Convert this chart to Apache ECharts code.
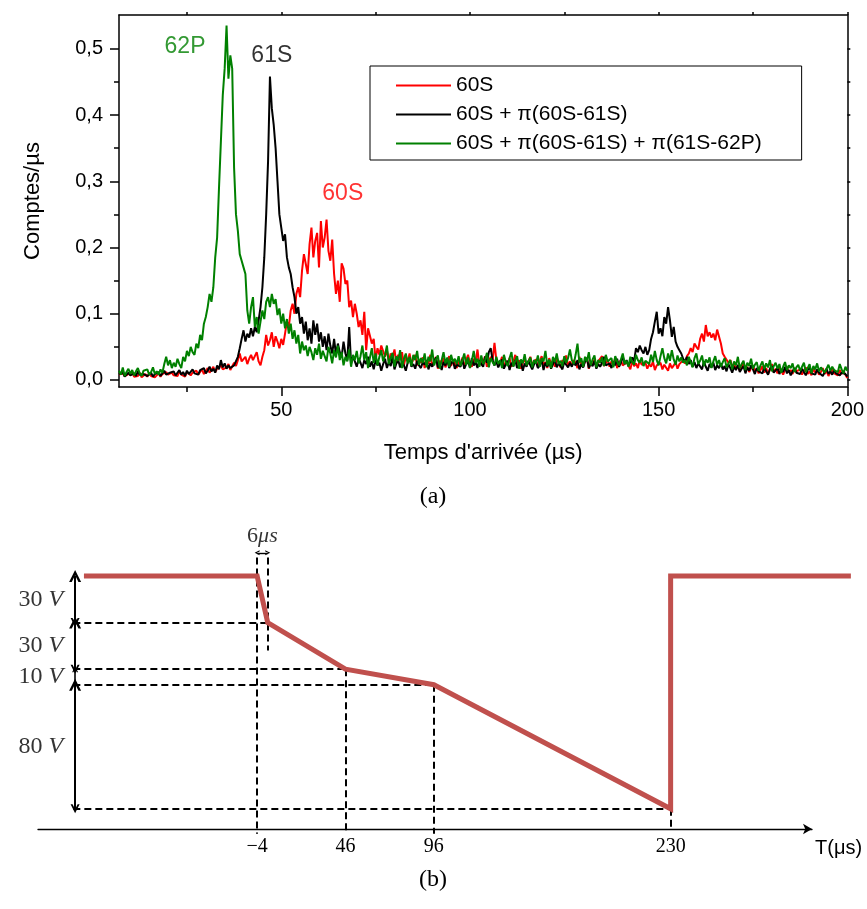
<!DOCTYPE html>
<html><head><meta charset="utf-8">
<script src="https://cdn.jsdelivr.net/npm/echarts@6/dist/echarts.min.js"></script>
<style>html,body{margin:0;padding:0;background:#fff}#c{width:867px;height:909px}</style>
</head><body><div id="c"></div>
<script>
// ===== Panel (a): arrival-time spectra =====
const T_START = 7;      // µs, first sample
const T_STEP = 0.5;     // µs between samples
const ROW_SPAN = 10;    // µs covered by one row (20 samples)
// counts/µs x 1000, one row per 10 µs starting at 7 µs
const red60S = [
[8,5,10,6,4,9,7,12,5,8,6,11,4,7,9,5,10,6,8,4],
[7,10,5,9,6,12,8,5,11,7,9,6,13,8,10,5,12,9,7,11],
[10,14,8,12,16,9,13,18,11,15,20,12,17,14,22,16,13,19,24,15],
[18,26,21,30,40,28,25,35,24,32,38,30,36,42,28,22,35,45,68,52],
[60,72,50,66,58,48,62,53,70,88,80,105,115,100,130,140,125,165,190,175],
[160,205,230,185,210,222,170,240,200,215,242,195,180,212,160,130,150,118,176,168],
[145,150,110,120,95,115,100,80,90,68,103,45,78,80,55,62,30,48,38,52],
[50,35,45,28,40,33,46,25,38,30,42,22,35,28,40,24,32,38,22,30],
[26,34,18,30,24,38,20,28,35,17,29,24,33,19,27,36,21,30,25,18],
[28,22,34,19,30,38,24,20,32,27,46,22,30,25,36,20,28,35,30,56],
[30,22,26,35,18,29,24,33,20,27,38,22,30,17,26,32,21,28,35,23],
[25,31,19,28,36,22,27,18,33,24,29,20,34,26,19,30,24,37,21,28],
[22,30,26,18,35,24,20,29,33,17,27,23,31,19,28,25,36,21,26,30],
[20,28,24,33,18,26,30,22,19,27,24,16,29,21,25,18,30,23,20,26],
[17,24,20,28,15,22,19,26,16,23,20,14,25,18,22,27,17,24,21,30],
[25,36,40,48,42,55,50,46,62,70,58,83,66,72,64,70,60,76,78,55],
[40,35,32,26,30,20,24,16,22,14,19,25,15,20,12,18,22,13,17,10],
[15,21,11,18,9,16,24,12,17,10,19,14,8,16,20,11,15,9,18,13],
[10,16,8,14,19,9,13,7,17,11,15,8,12,18,9,14,6,12,16,10],
[12,7,15,9,13,8,3]
];
const black61S = [
[9,6,12,5,8,11,7,4,10,6,13,8,5,9,12,6,8,11,5,9],
[7,12,6,10,14,8,5,11,9,13,7,10,15,8,12,6,14,9,11,16],
[10,13,8,15,12,18,10,14,20,13,17,11,22,16,30,19,25,17,22,18],
[15,22,20,35,48,62,75,58,70,64,78,66,80,72,90,110,140,185,250,330],
[458,410,385,350,300,250,230,210,220,185,170,160,140,125,100,110,85,95,70,88],
[60,78,55,90,68,85,58,72,50,66,45,70,52,40,62,38,55,42,35,58],
[40,30,80,25,35,28,20,32,26,18,30,24,35,20,28,16,30,22,26,14],
[24,32,18,27,21,35,16,25,30,19,28,22,14,26,33,20,24,17,29,22],
[18,27,23,30,16,25,20,28,34,19,24,15,27,22,31,18,25,29,17,23],
[26,20,31,17,24,28,19,33,22,27,18,30,24,20,35,26,42,48,30,22],
[28,19,25,31,17,24,29,15,26,21,30,18,23,27,14,25,20,29,22,16],
[24,28,18,22,30,15,26,20,27,17,24,31,19,25,21,16,28,23,19,26],
[20,27,22,30,16,24,19,28,33,18,25,21,29,17,24,20,26,35,22,19],
[25,18,28,22,32,20,26,36,24,30,22,27,34,28,48,42,52,45,40,50],
[38,45,62,72,88,103,70,78,66,95,85,110,90,65,80,58,50,45,40,32],
[28,35,24,30,20,27,18,25,22,16,28,20,14,24,19,26,15,22,18,25],
[16,21,13,24,18,11,20,15,23,12,17,21,10,19,14,22,16,9,18,13],
[15,10,19,13,8,17,21,11,14,18,9,16,12,20,10,15,7,13,18,11],
[14,9,17,12,7,15,19,10,13,8,16,11,14,6,12,17,9,13,8,15],
[10,13,7,11,14,9,5]
];
const green62P = [
[14,8,19,6,12,17,9,15,7,13,18,10,6,14,11,16,8,12,19,9],
[13,8,16,11,24,35,22,30,18,26,20,32,24,18,35,28,44,36,50,42],
[38,55,48,68,60,85,95,110,130,118,140,185,215,290,360,430,470,535,455,490],
[470,320,250,225,190,180,170,160,105,85,110,125,80,95,70,88,105,92,118,125],
[110,130,115,122,98,108,85,100,78,92,70,85,62,75,55,68,40,58,45,52],
[36,50,42,30,48,38,55,32,44,36,28,50,40,25,45,34,52,30,42,22],
[35,28,46,20,38,30,44,25,36,52,30,42,18,34,48,26,40,22,35,45],
[28,38,52,24,33,41,20,36,29,45,18,32,40,25,35,21,38,30,44,23],
[33,26,40,19,35,28,46,22,31,37,17,30,42,25,34,20,38,27,32,24],
[36,21,30,40,23,34,18,29,44,26,32,20,37,24,30,41,19,33,27,22],
[35,24,30,18,38,27,21,33,42,20,29,36,17,31,25,39,22,28,34,19],
[30,25,37,20,33,28,44,22,31,18,35,27,40,24,29,21,36,26,33,46],
[30,24,38,55,26,33,20,35,28,42,22,31,37,19,30,26,34,21,38,28],
[25,33,19,36,28,22,31,40,24,29,20,35,27,23,38,30,26,34,21,29],
[32,24,38,27,44,30,22,36,48,33,25,40,29,45,31,23,37,28,34,26],
[30,22,35,27,19,33,40,24,29,37,21,31,26,34,18,28,36,23,30,20],
[27,33,19,25,30,16,28,22,35,18,24,29,15,26,21,32,17,23,27,14],
[22,28,16,25,19,30,13,21,26,17,24,11,20,27,15,22,18,25,12,19],
[23,14,20,26,12,18,24,10,21,16,25,13,19,22,11,17,23,14,20,15],
[18,12,24,16,10,20,14]
];
const seriesNames = ['60S', '60S + π(60S-61S)', '60S + π(60S-61S) + π(61S-62P)'];
const seriesColors = ['#FF0000', '#000000', '#008000'];
const xMajor = [50, 100, 150, 200];
const xMinor = [25, 75, 125, 175];
const yMajor = [0, 0.1, 0.2, 0.3, 0.4, 0.5];
const yMinor = [0.05, 0.15, 0.25, 0.35, 0.45];
const peakNames = ['62P', '61S', '60S'];
const peakT = [24.5, 47.5, 66.3];
const peakV = [0.503, 0.49, 0.282];
const peakColors = ['#008000', '#000000', '#FF0000'];

// ===== Panel (b): voltage ramp =====
const rampT = [-102, -4, 2, 46, 96, 230, 230, 332];
const rampV = [150, 150, 120, 90, 80, 0, 150, 150];
const keyTimes = [-4, 46, 96, 230];
const levels = [150, 120, 90, 80, 0];
const levelEndT = [2, 46, 96, 230];       // where each lower level meets the ramp
const stepText = ['30', '30', '10', '80'];
const ARROW_T = -107;                      // time position of the dimension arrows
const DASH_START_T = -108;
const vDashes = [[-4, 162, -16], [2, 162, 102], [46, 90, -16], [96, 80, -16], [230, 0, -13]];
const sixUs = [-4, 2, 165, 176];           // t0, t1, arrow level, label level

function toPairs(rows) {
  const out = [];
  rows.forEach((row, r) => row.forEach((v, j) => out.push([T_START + r * ROW_SPAN + j * T_STEP, v / 1000])));
  return out;
}
const SANS = '"Liberation Sans", Arial, sans-serif';
const SERIF = '"Liberation Serif", "Times New Roman", serif';
const blk = { color: '#000', width: 1.5 };

const chart = echarts.init(document.getElementById('c'), null, { renderer: 'canvas' });
const topSeries = [red60S, black61S, green62P].map((rows, i) => ({
  name: seriesNames[i], type: 'line', xAxisIndex: 0, yAxisIndex: 0,
  data: toPairs(rows), symbol: 'none', z: 2 + i,
  lineStyle: { color: seriesColors[i], width: 2 }, itemStyle: { color: seriesColors[i] }
}));
const chevron = 'path://M0,10 L5,0 L10,10 L7.8,10 L5,4.4 L2.2,10 Z';

const option = {
  animation: false,
  backgroundColor: '#fff',
  grid: [
    { left: 119, right: 19, top: 15, bottom: 522, containLabel: false },
    { left: 38, right: 55, top: 514, bottom: 80, containLabel: false }
  ],
  legend: {
    data: seriesNames, orient: 'vertical', left: 370, top: 66,
    icon: 'rect', itemWidth: 55, itemHeight: 2, itemGap: 8, padding: [9, 40, 6, 26],
    borderColor: '#000', borderWidth: 1, borderRadius: 0, backgroundColor: '#fff',
    selectedMode: false, textStyle: { fontFamily: SANS, fontSize: 21, color: '#000' }
  },
  xAxis: [
    { gridIndex: 0, type: 'value', min: 7, max: 200, position: 'bottom',
      axisLine: { onZero: false, lineStyle: blk },
      axisTick: { customValues: xMajor, length: 9, lineStyle: blk },
      axisLabel: { customValues: xMajor, margin: 13, fontFamily: SANS, fontSize: 20, color: '#000' },
      splitLine: { show: false },
      name: "Temps d'arrivée (µs)", nameLocation: 'middle', nameGap: 55,
      nameTextStyle: { fontFamily: SANS, fontSize: 22, color: '#000' } },
    { gridIndex: 0, type: 'value', min: 7, max: 200, position: 'bottom',
      axisLine: { show: false, onZero: false }, axisTick: { customValues: xMinor, length: 5, lineStyle: blk },
      axisLabel: { show: false }, splitLine: { show: false } },
    { gridIndex: 0, type: 'value', min: 7, max: 200, position: 'top',
      axisLine: { onZero: false, lineStyle: blk }, axisTick: { customValues: xMinor.concat(xMajor), length: 3, lineStyle: blk },
      axisLabel: { show: false }, splitLine: { show: false } },
    { gridIndex: 1, type: 'value', min: -128, max: 310, position: 'bottom',
      axisLine: { onZero: false, symbol: ['none', 'arrow'], symbolSize: [8, 9], lineStyle: { color: '#000', width: 1.3 } },
      axisTick: { show: false },
      axisLabel: { customValues: keyTimes, margin: 8, fontFamily: SERIF, fontSize: 20, color: '#000',
        formatter: v => (v < 0 ? '\u2212' + Math.abs(v) : String(v)) },
      splitLine: { show: false },
      name: 'T(μs)', nameLocation: 'end', nameGap: 3,
      nameTextStyle: { fontFamily: SANS, fontSize: 20, color: '#000', align: 'left', verticalAlign: 'top', padding: [9, 0, 0, 0] } }
  ],
  yAxis: [
    { gridIndex: 0, type: 'value', min: -0.0106, max: 0.551, position: 'left',
      axisLine: { onZero: false, lineStyle: blk },
      axisTick: { customValues: yMajor, length: 9, lineStyle: blk },
      axisLabel: { customValues: yMajor, margin: 16, fontFamily: SANS, fontSize: 20, color: '#000',
        formatter: v => v.toFixed(1).replace('.', ',') },
      splitLine: { show: false },
      name: 'Comptes/µs', nameLocation: 'middle', nameGap: 75,
      nameTextStyle: { fontFamily: SANS, fontSize: 22, color: '#000' } },
    { gridIndex: 0, type: 'value', min: -0.0106, max: 0.551, position: 'left',
      axisLine: { show: false, onZero: false }, axisTick: { customValues: yMinor, length: 5, lineStyle: blk },
      axisLabel: { show: false }, splitLine: { show: false } },
    { gridIndex: 0, type: 'value', min: -0.0106, max: 0.551, position: 'right',
      axisLine: { onZero: false, lineStyle: blk }, axisTick: { customValues: yMinor.concat(yMajor), length: 3, lineStyle: blk },
      axisLabel: { show: false }, splitLine: { show: false } },
    { gridIndex: 1, type: 'value', min: -13, max: 190, show: false, splitLine: { show: false } }
  ],
  graphic: [
    { type: 'text', x: 433, y: 497, style: { text: '(a)', align: 'center', verticalAlign: 'middle', fontFamily: SERIF, fontSize: 24, fill: '#000' } },
    { type: 'text', x: 433, y: 880, style: { text: '(b)', align: 'center', verticalAlign: 'middle', fontFamily: SERIF, fontSize: 24, fill: '#000' } }
  ],
  series: topSeries.concat([
    { type: 'scatter', xAxisIndex: 0, yAxisIndex: 0, symbolSize: 0, silent: true, z: 6,
      data: peakNames.map((n, i) => ({ value: [peakT[i], peakV[i]], label: { color: peakColors[i] } })),
      label: { show: true, position: 'inside', formatter: p => peakNames[p.dataIndex], fontFamily: SANS, fontSize: 23 } },
    // dashed guides
    { type: 'lines', coordinateSystem: 'cartesian2d', xAxisIndex: 3, yAxisIndex: 3, clip: false, silent: true, z: 2,
      symbol: 'none', lineStyle: { color: '#000', width: 2, type: [7, 4], opacity: 1, curveness: 0 },
      data: levels.slice(1).map((v, i) => ({ coords: [[DASH_START_T, v], [levelEndT[i], v]] }))
        .concat(vDashes.map(d => ({ coords: [[d[0], d[1]], [d[0], d[2]]] }))) },
    // voltage ramp
    { type: 'lines', coordinateSystem: 'cartesian2d', xAxisIndex: 3, yAxisIndex: 3, polyline: true, clip: false, silent: true, z: 4,
      symbol: 'none', data: [{ coords: rampT.map((t, i) => [t, rampV[i]]) }],
      lineStyle: { color: '#C0504D', width: 5, opacity: 1, join: 'miter' } },
    // dimension arrows (large steps)
    { type: 'lines', coordinateSystem: 'cartesian2d', xAxisIndex: 3, yAxisIndex: 3, clip: false, silent: true, z: 5,
      symbol: [chevron, chevron], symbolSize: [12, 9], lineStyle: { color: '#000', width: 2, opacity: 1 },
      itemStyle: { color: '#000' },
      data: [0, 1, 3].map(i => ({ coords: [[ARROW_T, levels[i]], [ARROW_T, levels[i + 1]]] })) },
    // small 10 V arrow
    { type: 'lines', coordinateSystem: 'cartesian2d', xAxisIndex: 3, yAxisIndex: 3, clip: false, silent: true, z: 5,
      symbol: [chevron, chevron], symbolSize: [6, 4], lineStyle: { color: '#000', width: 1.6, opacity: 1 },
      data: [{ coords: [[ARROW_T, levels[2]], [ARROW_T, levels[3]]] }] },
    // 6 µs arrow
    { type: 'lines', coordinateSystem: 'cartesian2d', xAxisIndex: 3, yAxisIndex: 3, clip: false, silent: true, z: 5,
      symbol: [chevron, chevron], symbolSize: [5, 5], lineStyle: { color: '#000', width: 1.4, opacity: 1 },
      data: [{ coords: [[sixUs[0], sixUs[2]], [sixUs[1], sixUs[2]]] }] },
    // step labels
    { type: 'scatter', xAxisIndex: 3, yAxisIndex: 3, symbolSize: 0, silent: true, clip: false, z: 6,
      data: stepText.map((s, i) => [ARROW_T, (levels[i] + levels[i + 1]) / 2]),
      label: { show: true, position: 'left', distance: 12, formatter: p => '{n|' + stepText[p.dataIndex] + ' }{v|V}',
        rich: { n: { fontFamily: SERIF, fontSize: 24, color: '#000' }, v: { fontFamily: SERIF, fontSize: 24, fontStyle: 'italic', color: '#000' } } } },
    { type: 'scatter', xAxisIndex: 3, yAxisIndex: 3, symbolSize: 0, silent: true, clip: false, z: 6,
      data: [[(sixUs[0] + sixUs[1]) / 2, sixUs[3]]],
      label: { show: true, position: 'inside', formatter: '{n|6}{i|μs}',
        rich: { n: { fontFamily: SERIF, fontSize: 22, color: '#000' }, i: { fontFamily: SERIF, fontSize: 22, fontStyle: 'italic', color: '#000' } } } }
  ])
};
chart.setOption(option);
</script>
</body></html>
